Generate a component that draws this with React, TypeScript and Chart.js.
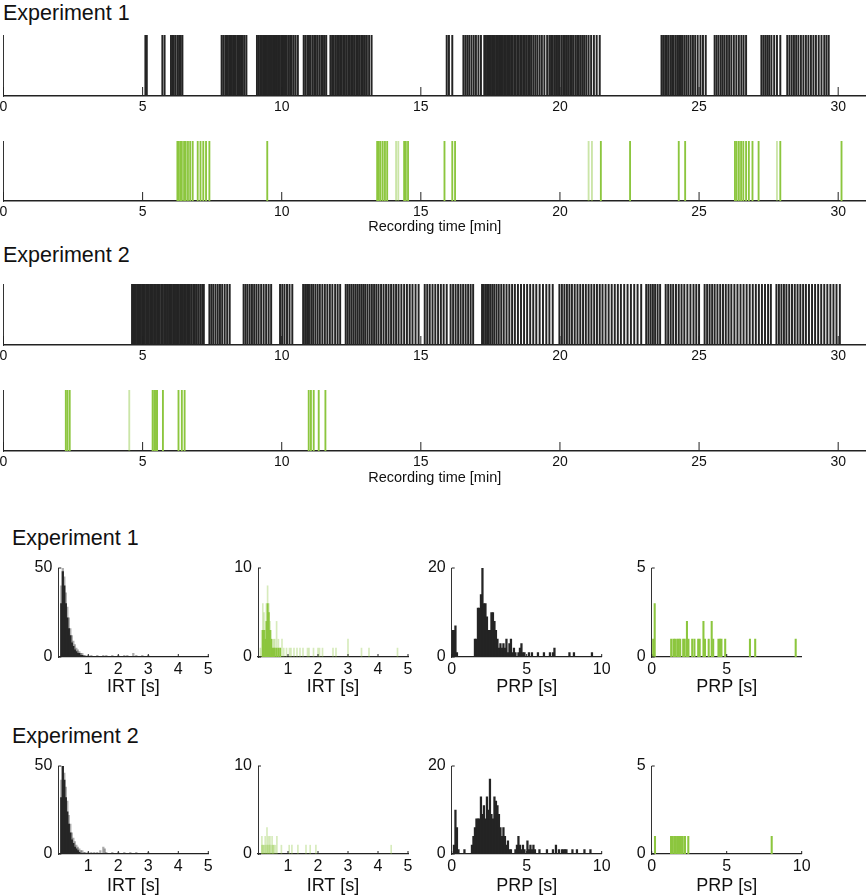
import React, { useEffect, useRef } from 'react';
import { Chart, registerables } from 'chart.js';
Chart.register(...registerables);

const FONT = '"Liberation Sans", Arial, Helvetica, sans-serif';
const BLACK = '#242424';
const GREEN = '#8cc63e';
const GREEN_LIGHT = 'rgba(140,198,62,0.35)';
const GREEN_FAINT = 'rgba(140,198,62,0.45)';
const GRAY_ENV = 'rgba(40,40,40,0.38)';

// ---------- tick values ----------
const rasterTicks = [0, 5, 10, 15, 20, 25, 30];
const irtTicks = [1, 2, 3, 4, 5];
const irtYTicks50 = [0, 50];
const irtYTicks10 = [0, 10];
const prpTicks = [0, 5, 10];
const prpTicksShort = [0, 5];
const prpYTicks20 = [0, 20];
const prpYTicks5 = [0, 5];

// ---------- raster event times [min] ----------
const exp1Lever = [
  5.10, 5.15, 5.71, 5.79,
  6.02, 6.08, 6.12, 6.18, 6.25, 6.31, 6.37, 6.43,
  7.84, 7.90, 7.97, 8.02, 8.06, 8.11, 8.17, 8.21, 8.26, 8.30, 8.35, 8.41, 8.45, 8.50, 8.55, 8.60, 8.66, 8.73,
  9.11, 9.18, 9.24, 9.29, 9.34, 9.38, 9.43, 9.47, 9.52, 9.56, 9.60, 9.65, 9.70, 9.74, 9.79, 9.83, 9.88, 9.93, 9.98,
  10.03, 10.08, 10.12, 10.18, 10.24, 10.30, 10.36, 10.43, 10.50, 10.58,
  10.79, 10.85, 10.92, 10.98, 11.04, 11.11, 11.17, 11.22, 11.28, 11.35, 11.42, 11.48, 11.54, 11.60,
  11.75, 11.81, 11.87, 11.93, 11.99, 12.05, 12.10, 12.16, 12.22, 12.27, 12.33, 12.39, 12.45, 12.51, 12.56,
  12.62, 12.68, 12.74, 12.80, 12.86, 12.92, 12.99, 13.06, 13.14, 13.23,
  15.93, 16.01, 16.13,
  16.53, 16.60, 16.67, 16.74, 16.82, 16.90, 16.98, 17.07, 17.16,
  17.28, 17.33, 17.38, 17.42, 17.47, 17.52, 17.57, 17.61, 17.66, 17.71, 17.76, 17.81, 17.86, 17.90, 17.95,
  18.00, 18.05, 18.10, 18.15, 18.20, 18.25, 18.30, 18.36, 18.41, 18.47, 18.52, 18.58, 18.63, 18.69, 18.74,
  18.80, 18.86, 18.92, 18.98, 19.05, 19.12, 19.19, 19.27, 19.35, 19.44, 19.54,
  19.62, 19.68, 19.74, 19.80, 19.86, 19.93, 19.99, 20.06, 20.12, 20.18, 20.25, 20.31, 20.37, 20.43, 20.49,
  20.56, 20.62, 20.68, 20.75, 20.82, 20.88, 20.95, 21.03, 21.12, 21.22, 21.32, 21.43,
  23.65, 23.71, 23.78, 23.84, 23.90, 23.97, 24.03, 24.09, 24.16, 24.22, 24.28, 24.35, 24.41, 24.48, 24.55,
  24.62, 24.70, 24.78, 24.86, 24.95, 25.05, 25.14, 25.24,
  25.56, 25.63, 25.70, 25.78, 25.85, 25.92, 26.00, 26.08, 26.16, 26.25, 26.34, 26.43, 26.52, 26.60, 26.69,
  27.24, 27.31, 27.38, 27.45, 27.52, 27.60, 27.70, 27.80, 27.92,
  28.17, 28.25, 28.33, 28.41, 28.49, 28.57, 28.66, 28.75, 28.84, 28.93, 29.02, 29.11, 29.20, 29.30, 29.40,
  29.50, 29.58, 29.66,
];
const exp1Green = [
  6.25, 6.29, 6.35, 6.41, 6.49, 6.55, 6.63, 6.71, 6.80, 6.98, 7.08, 7.18, 7.28, 7.40,
  9.48, 13.43, 13.49, 13.55, 13.63, 13.71, 13.79, 14.40, 14.46, 14.54,
  15.85, 16.13, 16.23, 21.47, 22.52, 24.27, 24.50,
  26.29, 26.35, 26.43, 26.51, 26.59, 26.69, 26.79, 26.92, 27.14, 27.92, 30.12,
];
const exp1GreenFaint = [14.11, 14.19, 21.03, 21.15, 27.80];
const exp2Lever = [
  4.62, 4.67, 4.72, 4.76, 4.81, 4.85, 4.90, 4.94, 4.99, 5.04, 5.08, 5.13, 5.18, 5.22, 5.27, 5.32, 5.37,
  5.42, 5.47, 5.52, 5.57, 5.62, 5.68, 5.73, 5.79, 5.84, 5.90, 5.95, 6.00, 6.05, 6.10, 6.15, 6.20, 6.25,
  6.30, 6.35, 6.40, 6.45, 6.50, 6.55, 6.60, 6.65, 6.70, 6.76, 6.82, 6.88, 6.94, 7.00, 7.07, 7.14, 7.20,
  7.40, 7.47, 7.54, 7.62, 7.70, 7.78, 7.86, 7.95, 8.04, 8.13,
  8.63, 8.70, 8.77, 8.85, 8.93, 9.01, 9.09, 9.17, 9.26, 9.35, 9.44, 9.53, 9.62,
  9.94, 10.02, 10.10, 10.19, 10.28, 10.38,
  10.77, 10.84, 10.91, 10.98, 11.06, 11.13, 11.21, 11.29, 11.37, 11.46, 11.55, 11.64, 11.73, 11.82, 11.92,
  12.01, 12.10,
  12.30, 12.37, 12.44, 12.51, 12.58, 12.65, 12.72, 12.79, 12.86, 12.93, 13.00, 13.08, 13.16, 13.24, 13.32,
  13.40, 13.48, 13.57, 13.66, 13.75, 13.84, 13.93, 14.02, 14.11, 14.20, 14.30, 14.40, 14.50, 14.60, 14.70,
  14.81, 14.92,
  15.14, 15.23, 15.32, 15.42, 15.52, 15.62, 15.72, 15.82, 15.93,
  16.07, 16.16, 16.25, 16.34, 16.43, 16.52, 16.61, 16.70, 16.79, 16.88,
  17.20, 17.26, 17.32, 17.38, 17.44, 17.50, 17.57, 17.64, 17.72, 17.80, 17.89, 17.98, 18.08, 18.18, 18.28,
  18.38, 18.49, 18.60, 18.71, 18.82, 18.93, 19.04, 19.15, 19.27, 19.39, 19.51, 19.62, 19.74,
  19.98, 20.07, 20.16, 20.25, 20.34, 20.43, 20.53, 20.63, 20.73, 20.83, 20.93, 21.03, 21.13, 21.23, 21.33,
  21.43, 21.53, 21.64, 21.75, 21.86, 21.97, 22.08, 22.19, 22.31, 22.43, 22.55, 22.67, 22.79, 22.92,
  23.10, 23.18, 23.26, 23.34, 23.42, 23.51, 23.60,
  23.80, 23.89, 23.98, 24.07, 24.17, 24.27, 24.37, 24.47, 24.58, 24.69, 24.80, 24.90, 25.00,
  25.20, 25.29, 25.38, 25.47, 25.56, 25.66, 25.76, 25.86, 25.96, 26.06, 26.16, 26.27, 26.38, 26.49, 26.60,
  26.71, 26.82, 26.93, 27.04, 27.15, 27.26, 27.37, 27.48, 27.58,
  27.78, 27.87, 27.96, 28.05, 28.14, 28.24, 28.34, 28.44, 28.54, 28.64, 28.74, 28.84, 28.95, 29.06, 29.17,
  29.28, 29.39, 29.50, 29.61, 29.72, 29.83, 29.94, 30.06,
];
const exp2Green = [2.24, 2.30, 2.38, 5.36, 5.42, 5.48, 5.52, 5.73, 6.29, 6.41, 6.51, 10.97, 11.05, 11.15, 11.33, 11.57];
const exp2GreenFaint = [4.52];

// ---------- histograms ----------
// Experiment 1, IRT, lever (black)
const irt1CoreX = [0.10, 0.15, 0.20, 0.25, 0.30, 0.35, 0.40, 0.45, 0.50, 0.55, 0.60, 0.65, 0.70, 0.75, 0.80];
const irt1CoreY = [30, 48, 40, 30, 22, 16, 12, 8, 6, 4, 3, 2, 2, 1, 1];
const irt1EnvX = [0.10, 0.15, 0.20, 0.25, 0.30, 0.35, 0.40, 0.45, 0.50, 0.55, 0.60, 0.65, 0.70, 0.75, 0.80, 0.85, 0.90, 1.00, 1.10, 1.30, 1.50, 1.60, 1.80, 2.00, 2.20, 2.30, 2.50, 2.60, 2.80, 3.00];
const irt1EnvY = [40, 50, 45, 36, 28, 22, 16, 12, 9, 7, 5, 4, 3, 2, 2, 1, 1, 1, 1, 1, 1, 1, 1, 1, 1, 1, 2, 1, 1, 1];
// Experiment 1, IRT, green
const irt1GLightX = [0.08, 0.12, 0.16, 0.20, 0.24, 0.28, 0.32, 0.36, 0.40, 0.44, 0.48, 0.52, 0.56, 0.62, 0.68, 0.74, 0.80, 0.86, 0.95, 1.05, 1.10, 1.20, 1.30, 1.40, 1.50, 1.65, 1.70, 1.85, 2.00, 2.05, 2.15, 2.50, 2.60, 3.00, 3.45, 3.70, 4.65];
const irt1GLightY = [1, 3, 6, 5, 3, 6, 8, 6, 4, 3, 2, 2, 2, 4, 2, 1, 2, 1, 1, 1, 1, 1, 1, 1, 1, 1, 1, 1, 1, 1, 1, 1, 1, 2, 1, 1, 1];
const irt1GCoreX = [0.16, 0.20, 0.24, 0.28, 0.32, 0.36, 0.40, 0.44, 0.48, 0.52, 0.56, 0.62, 0.68, 0.74];
const irt1GCoreY = [3, 3, 2, 4, 6, 5, 3, 2, 1, 1, 1, 1, 1, 1];
// Experiment 1, PRP, lever (black)
const prp1X = [0.05, 0.15, 0.25, 0.35, 1.55, 1.65, 1.75, 1.85, 1.95, 2.05, 2.15, 2.25, 2.35, 2.45, 2.55, 2.65, 2.75, 2.85, 2.95, 3.05, 3.15, 3.25, 3.35, 3.45, 3.55, 3.65, 3.75, 3.85, 3.95, 4.05, 4.15, 4.25, 4.45, 4.55, 4.65, 4.75, 4.85, 5.15, 5.35, 5.75, 6.15, 6.55, 6.75, 6.85, 7.85, 8.15, 9.35];
const prp1Y = [6, 6, 7, 1, 4, 4, 11, 11, 14, 20, 12, 12, 9, 6, 6, 10, 10, 8, 6, 4, 2, 3, 2, 3, 2, 4, 1, 3, 4, 1, 2, 1, 1, 2, 3, 1, 1, 1, 1, 1, 1, 1, 1, 2, 1, 1, 1];
// Experiment 1, PRP, green
const prp1GX = [0.10, 0.20, 1.30, 1.45, 1.55, 1.70, 1.80, 1.90, 2.10, 2.20, 2.35, 2.45, 2.70, 2.85, 3.10, 3.20, 3.45, 3.55, 3.80, 4.00, 4.10, 4.45, 4.55, 4.65, 4.90, 6.55, 6.90, 9.60];
const prp1GY = [1, 3, 1, 1, 1, 1, 1, 1, 1, 1, 2, 1, 1, 1, 1, 1, 2, 1, 1, 2, 1, 1, 1, 1, 1, 1, 1, 1];
// Experiment 2, IRT, lever (black)
const irt2CoreX = [0.10, 0.15, 0.20, 0.25, 0.30, 0.35, 0.40, 0.45, 0.50, 0.55, 0.60, 0.65, 0.70];
const irt2CoreY = [32, 50, 42, 32, 24, 17, 12, 8, 6, 4, 3, 2, 1];
const irt2EnvX = [0.10, 0.15, 0.20, 0.25, 0.30, 0.35, 0.40, 0.45, 0.50, 0.55, 0.60, 0.65, 0.70, 0.75, 0.80, 0.85, 0.90, 1.00, 1.10, 1.20, 1.30, 1.40, 1.50, 1.55, 1.60, 1.80, 2.00, 2.20, 2.40, 2.60, 3.00];
const irt2EnvY = [42, 50, 46, 38, 30, 22, 17, 12, 9, 7, 5, 4, 3, 2, 2, 1, 1, 1, 1, 1, 1, 2, 4, 3, 1, 1, 1, 1, 1, 1, 1];
// Experiment 2, IRT, green
const irt2GLightX = [0.13, 0.18, 0.24, 0.30, 0.35, 0.40, 0.47, 0.52, 0.58, 0.63, 0.78, 1.04, 1.13, 1.33, 1.60, 1.74, 1.93, 4.44];
const irt2GLightY = [2, 1, 2, 3, 2, 2, 2, 1, 1, 2, 1, 1, 1, 1, 1, 1, 1, 1];
const irt2GCoreX = [0.13, 0.18, 0.24, 0.30, 0.35, 0.40, 0.47, 0.52];
const irt2GCoreY = [1, 1, 1, 1, 1, 1, 1, 1];
// Experiment 2, PRP, lever (black)
const prp2X = [0.15, 0.25, 0.35, 0.45, 0.85, 1.35, 1.45, 1.55, 1.65, 1.75, 1.85, 1.95, 2.05, 2.15, 2.25, 2.35, 2.45, 2.55, 2.65, 2.75, 2.85, 2.95, 3.05, 3.15, 3.25, 3.35, 3.45, 3.55, 3.65, 3.75, 3.85, 3.95, 4.25, 4.35, 4.45, 4.55, 4.65, 4.75, 4.85, 5.05, 5.15, 5.25, 5.35, 5.45, 5.55, 5.85, 6.35, 6.75, 6.95, 7.15, 7.35, 7.45, 7.55, 7.65, 8.05, 8.35, 8.85, 9.25];
const prp2Y = [2, 10, 6, 1, 1, 2, 4, 6, 8, 8, 8, 13, 9, 11, 8, 13, 10, 17, 9, 8, 13, 12, 11, 9, 6, 4, 6, 4, 2, 3, 1, 1, 1, 2, 4, 2, 1, 2, 1, 3, 1, 2, 1, 2, 1, 1, 1, 1, 2, 1, 1, 1, 1, 1, 1, 1, 1, 1];
// Experiment 2, PRP, green
const prp2GX = [0.22, 1.29, 1.38, 1.50, 1.60, 1.70, 1.78, 1.85, 1.95, 2.07, 2.22, 2.44, 8.00];
const prp2GY = [1, 1, 1, 1, 1, 1, 1, 1, 1, 1, 1, 1, 1];

const pts = (xs: number[], ys: number[]) => xs.map((x, i) => ({ x, y: ys[i] }));

const innerTicks = {
  id: 'innerTicks',
  afterDatasetsDraw(chart: any, _a: any, opts: any) {
    const { ctx, chartArea } = chart;
    const xs = chart.scales.x;
    const ys = chart.scales.y;
    ctx.save();
    ctx.strokeStyle = '#222';
    ctx.lineWidth = 1;
    if (opts && opts.xlen) {
      xs.ticks.forEach((t: any) => {
        const px = xs.getPixelForValue(t.value);
        ctx.beginPath();
        ctx.moveTo(px, chartArea.bottom);
        ctx.lineTo(px, chartArea.bottom - opts.xlen);
        ctx.stroke();
      });
    }
    if (opts && opts.ylen) {
      ys.ticks.forEach((t: any) => {
        const py = ys.getPixelForValue(t.value);
        ctx.beginPath();
        ctx.moveTo(chartArea.left, py);
        ctx.lineTo(chartArea.left + opts.ylen, py);
        ctx.stroke();
      });
    }
    ctx.restore();
  },
};

const RASTER_SHIFT = 6; // canvas starts 6px left of the page edge

function rasterConfig(main: number[], mainColor: string, faint: number[], faintColor: string, withTitle: boolean, axisH: number, thick: number) {
  const datasets: any[] = [
    { data: main.map((t) => ({ x: t, y: 1 })), backgroundColor: mainColor, barThickness: thick, grouped: false },
  ];
  if (faint.length) datasets.push({ data: faint.map((t) => ({ x: t, y: 1 })), backgroundColor: faintColor, barThickness: thick, grouped: false });
  return {
    type: 'bar',
    data: { datasets },
    options: {
      animation: false,
      responsive: false,
      devicePixelRatio: 1,
      events: [],
      layout: { padding: 0 },
      plugins: { legend: { display: false }, tooltip: { enabled: false }, innerTicks: { xlen: 9 } },
      scales: {
        x: {
          type: 'linear', min: 0, max: 31, offset: false,
          afterBuildTicks: (s: any) => { s.ticks = rasterTicks.map((v) => ({ value: v })); },
          afterFit: (s: any) => { s.height = axisH; },
          grid: { display: false, drawTicks: false, offset: false },
          border: { display: true, color: '#222', width: 1.5 },
          ticks: { color: '#111', padding: 4, maxRotation: 0, autoSkip: false, font: { family: FONT, size: 14, lineHeight: 1 } },
          title: { display: withTitle, text: 'Recording time [min]', color: '#111', padding: 0, font: { family: FONT, size: 14.5, lineHeight: 1.2 } },
        },
        y: {
          min: 0, max: 1,
          ticks: { display: false },
          grid: { display: false, drawTicks: false },
          border: { display: true, color: '#333', width: 1 },
          afterFit: (s: any) => { s.width = 3.5 + RASTER_SHIFT; },
        },
      },
    },
    plugins: [innerTicks],
  };
}

function histConfig(datasets: any[], xTicks: number[], xMax: number, yTicks: number[], yMax: number, xTitle: string, axisH: number, yW: number, padRight: number) {
  return {
    type: 'bar',
    data: { datasets },
    options: {
      animation: false,
      responsive: false,
      devicePixelRatio: 1,
      events: [],
      layout: { padding: { top: 12, right: padRight, left: 0, bottom: 0 } },
      plugins: { legend: { display: false }, tooltip: { enabled: false }, innerTicks: { xlen: 3, ylen: 3 } },
      scales: {
        x: {
          type: 'linear', min: 0, max: xMax, offset: false,
          afterBuildTicks: (s: any) => { s.ticks = xTicks.map((v) => ({ value: v })); },
          afterFit: (s: any) => { s.height = axisH; },
          grid: { display: false, drawTicks: false, offset: false },
          border: { display: true, color: '#222', width: 1.2 },
          ticks: { color: '#111', padding: 5, maxRotation: 0, autoSkip: false, font: { family: FONT, size: 16, lineHeight: 1 } },
          title: { display: true, text: xTitle, color: '#111', padding: 0, font: { family: FONT, size: 18, lineHeight: 1.2 } },
        },
        y: {
          min: 0, max: yMax,
          afterBuildTicks: (s: any) => { s.ticks = yTicks.map((v) => ({ value: v })); },
          afterFit: (s: any) => { s.width = yW; },
          grid: { display: false, drawTicks: false },
          border: { display: true, color: '#333', width: 1 },
          ticks: { color: '#111', padding: 6, font: { family: FONT, size: 16, lineHeight: 1 } },
        },
      },
    },
    plugins: [innerTicks],
  };
}

function ChartCanvas({ left, top, width, height, make }: any) {
  const ref = useRef<HTMLCanvasElement>(null);
  useEffect(() => {
    const c = new Chart(ref.current as HTMLCanvasElement, make());
    return () => c.destroy();
  }, []);
  return (
    <canvas ref={ref} width={width} height={height}
      style={{ position: 'absolute', left, top, width, height, display: 'block' }} />
  );
}

const titleStyle = (left: number, top: number): React.CSSProperties => ({
  position: 'absolute', left, top, fontFamily: FONT, fontSize: 21.5, lineHeight: '22px', color: '#111', whiteSpace: 'nowrap',
});

const bar = (data: any[], color: string, thick: number) => ({ data, backgroundColor: color, barThickness: thick, grouped: false });

export default function App() {
  const cols = [58.3, 258, 451.7, 651.7];
  const W = 150;
  const hist = (col: number, areaTop: number, areaH: number, axisH: number, datasets: any[], xT: number[], xMax: number, yT: number[], yMax: number, xTitle: string, key: string) => {
    const L = cols[col];
    const cl = Math.floor(L) - 40;
    const yW = L - cl;
    const cw = 208;
    const padRight = cw - yW - W;
    return (
      <ChartCanvas key={key} left={cl} top={areaTop - 12} width={cw} height={12 + areaH + axisH}
        make={() => histConfig(datasets, xT, xMax, yT, yMax, xTitle, axisH, yW, padRight)} />
    );
  };
  const r1 = 566, r1h = 91, r2 = 764, r2h = 90;
  const RW = 866 + RASTER_SHIFT;
  return (
    <div style={{ position: 'absolute', left: 0, top: 0, width: 866, height: 896, background: '#fff', overflow: 'hidden' }}>
      <div style={titleStyle(3, 1.5)}>Experiment 1</div>
      <ChartCanvas left={-RASTER_SHIFT} top={35} width={RW} height={61 + 22} make={() => rasterConfig(exp1Lever, BLACK, [], BLACK, false, 22, 1.3)} />
      <ChartCanvas left={-RASTER_SHIFT} top={141} width={RW} height={60 + 35} make={() => rasterConfig(exp1Green, GREEN, exp1GreenFaint, GREEN_FAINT, true, 35, 1.2)} />
      <div style={titleStyle(3, 243.5)}>Experiment 2</div>
      <ChartCanvas left={-RASTER_SHIFT} top={284} width={RW} height={61 + 22} make={() => rasterConfig(exp2Lever, BLACK, [], BLACK, false, 22, 1.3)} />
      <ChartCanvas left={-RASTER_SHIFT} top={390} width={RW} height={61 + 36} make={() => rasterConfig(exp2Green, GREEN, exp2GreenFaint, GREEN_FAINT, true, 36, 1.2)} />

      <div style={titleStyle(12, 526.5)}>Experiment 1</div>
      {hist(0, r1, r1h, 41, [bar(pts(irt1EnvX, irt1EnvY), GRAY_ENV, 1.6), bar(pts(irt1CoreX, irt1CoreY), BLACK, 1.6)], irtTicks, 5, irtYTicks50, 50, 'IRT [s]', 'h1')}
      {hist(1, r1, r1h, 41, [bar(pts(irt1GLightX, irt1GLightY), GREEN_LIGHT, 1), bar(pts(irt1GCoreX, irt1GCoreY), GREEN, 1.2)], irtTicks, 5, irtYTicks10, 10, 'IRT [s]', 'h2')}
      {hist(2, r1, r1h, 41, [bar(pts(prp1X, prp1Y), BLACK, 1.6)], prpTicks, 10, prpYTicks20, 20, 'PRP [s]', 'h3')}
      {hist(3, r1, r1h, 41, [bar(pts(prp1GX, prp1GY), GREEN, 1.4)], prpTicksShort, 10, prpYTicks5, 5, 'PRP [s]', 'h4')}

      <div style={titleStyle(12, 724.5)}>Experiment 2</div>
      {hist(0, r2, r2h, 43, [bar(pts(irt2EnvX, irt2EnvY), GRAY_ENV, 1.6), bar(pts(irt2CoreX, irt2CoreY), BLACK, 1.6)], irtTicks, 5, irtYTicks50, 50, 'IRT [s]', 'h5')}
      {hist(1, r2, r2h, 43, [bar(pts(irt2GLightX, irt2GLightY), GREEN_LIGHT, 1), bar(pts(irt2GCoreX, irt2GCoreY), GREEN_LIGHT, 1.2)], irtTicks, 5, irtYTicks10, 10, 'IRT [s]', 'h6')}
      {hist(2, r2, r2h, 43, [bar(pts(prp2X, prp2Y), BLACK, 1.6)], prpTicks, 10, prpYTicks20, 20, 'PRP [s]', 'h7')}
      {hist(3, r2, r2h, 43, [bar(pts(prp2GX, prp2GY), GREEN, 1.4)], prpTicks, 10, prpYTicks5, 5, 'PRP [s]', 'h8')}
    </div>
  );
}
